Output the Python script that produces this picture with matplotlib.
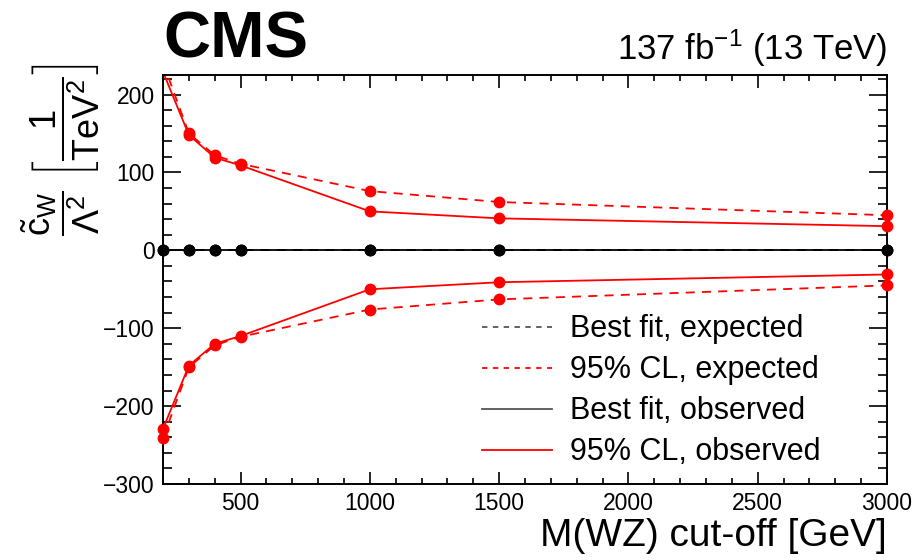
import numpy as np
import matplotlib.pyplot as plt
from matplotlib.lines import Line2D
from matplotlib.ticker import MultipleLocator

plt.rcParams['font.family'] = ['Liberation Sans', 'DejaVu Sans']
plt.rcParams['mathtext.fontset'] = 'custom'
plt.rcParams['mathtext.rm'] = 'Liberation Sans'
plt.rcParams['mathtext.it'] = 'Liberation Sans:italic'
plt.rcParams['mathtext.bf'] = 'Liberation Sans:bold'

# M(WZ) cut-off values and limits on c_W / Lambda^2
mwz_cut = np.array([200, 300, 400, 500, 1000, 1500, 3000])
exp_upper = np.array([241, 150, 122, 111, 76, 62, 45])
obs_upper = np.array([229, 148, 119, 109, 50, 41, 31])
exp_lower = np.array([-241, -150, -122, -111, -76, -63, -45])
obs_lower = np.array([-229, -148, -120, -110, -50, -41, -31])
bestfit_exp = np.array([0, 0, 0, 0, 0, 0, 0])
bestfit_obs = np.array([0, 0, 0, 0, 0, 0, 0])

ymin, ymax = -300, 225

fig = plt.figure(figsize=(9.18, 5.6), dpi=100)
ax = fig.add_axes([0.1776, 0.1357, 0.7886, 0.7303])

red = '#ff0000'
lw = 1.3

ax.plot(mwz_cut, exp_upper, color=red, ls=(0, (5, 4)), lw=lw)
ax.plot(mwz_cut, exp_lower, color=red, ls=(0, (5, 4)), lw=lw)
ax.plot(mwz_cut, obs_upper, color=red, ls='-', lw=lw)
ax.plot(mwz_cut, obs_lower, color=red, ls='-', lw=lw)
ax.plot(mwz_cut, bestfit_exp, color='black', ls=(0, (5, 4)), lw=lw)
ax.plot(mwz_cut, bestfit_obs, color='black', ls='-', lw=lw)

# markers, only those inside the y range (drawn unclipped at the frame)
for vals, col in [(exp_upper, red), (obs_upper, red), (exp_lower, red),
                  (obs_lower, red), (bestfit_exp, 'black'), (bestfit_obs, 'black')]:
    inside = (vals >= ymin) & (vals <= ymax)
    ax.plot(mwz_cut[inside], vals[inside], 'o', color=col, ms=7.5,
            clip_on=False, zorder=5)

ax.set_xlim(200, 3000)
ax.set_ylim(ymin, ymax)

ax.xaxis.set_major_locator(MultipleLocator(500))
ax.xaxis.set_minor_locator(MultipleLocator(100))
ax.yaxis.set_major_locator(MultipleLocator(100))
ax.yaxis.set_minor_locator(MultipleLocator(20))

ax.tick_params(which='both', direction='in', top=True, right=True, width=1.2)
ax.tick_params(axis='x', which='major', length=9, labelsize=16.5, pad=6)
ax.tick_params(axis='x', which='minor', length=4.5)
ax.tick_params(axis='y', which='major', length=13, labelsize=16.5, pad=6)
ax.tick_params(axis='y', which='minor', length=6.5)
for sp in ax.spines.values():
    sp.set_linewidth(1.4)

ax.set_xlabel('M(WZ) cut-off [GeV]', fontsize=28, ha='right', x=1.0, labelpad=2)
ax.set_ylabel(r'$\dfrac{\tilde{\mathrm{c}}_{\mathrm{W}}}{\Lambda^{2}}\ '
              r'\left[\dfrac{1}{\mathrm{TeV}^{2}}\right]$',
              fontsize=26, ha='right', y=1.0)
ax.yaxis.set_label_coords(-0.085, 1.03)

ax.text(0.0, 1.012, 'CMS', transform=ax.transAxes, fontsize=47,
        fontweight='bold', ha='left', va='bottom')
ax.text(1.0, 1.015, r'137 fb$^{-1}$ (13 TeV)', transform=ax.transAxes,
        fontsize=25, ha='right', va='bottom')

handles = [
    Line2D([], [], color='#555555', ls=(0, (3, 3)), lw=lw),
    Line2D([], [], color=red, ls=(0, (3, 3)), lw=lw),
    Line2D([], [], color='#555555', ls='-', lw=lw),
    Line2D([], [], color=red, ls='-', lw=lw),
]
labels = ['Best fit, expected', '95% CL, expected',
          'Best fit, observed', '95% CL, observed']
ax.legend(handles, labels, loc='upper left', bbox_to_anchor=(0.44, 0.415),
          frameon=False, fontsize=22, handlelength=2.3, handletextpad=0.6,
          labelspacing=0.36, borderaxespad=0, borderpad=0)

fig.savefig('out.png', dpi=100)
